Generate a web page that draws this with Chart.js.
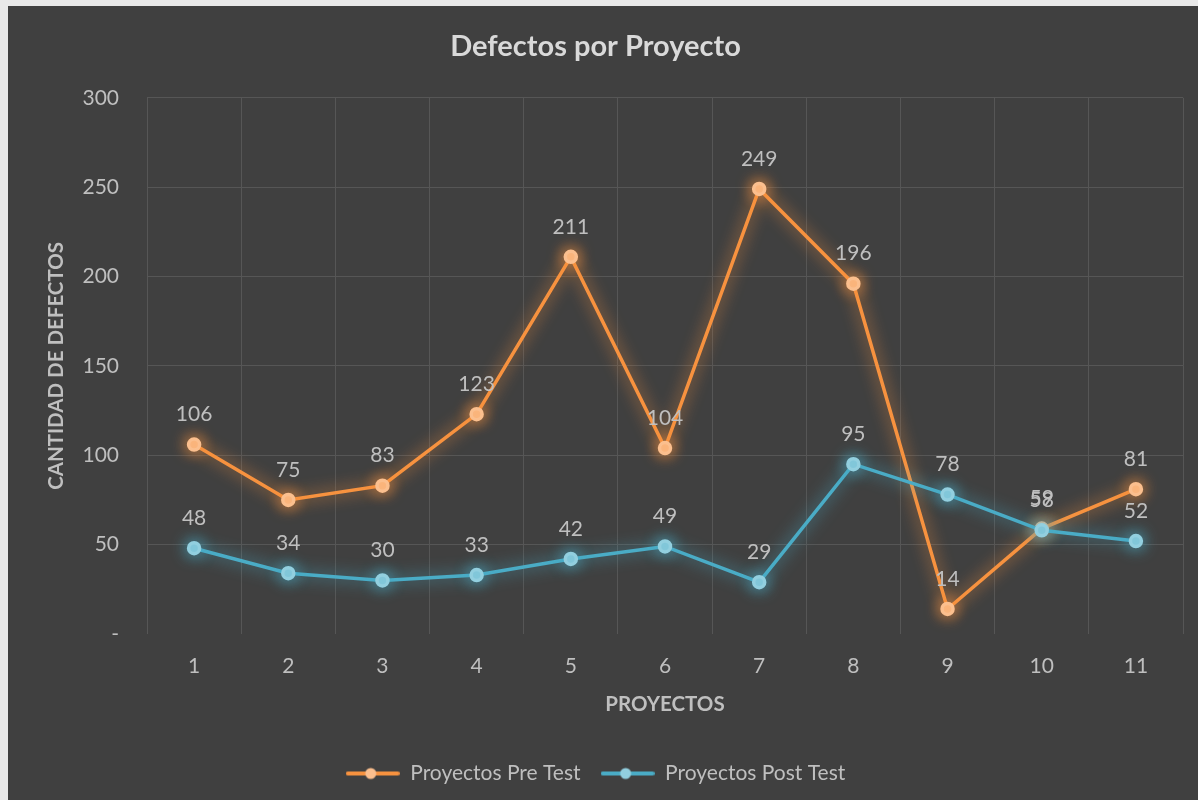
<!DOCTYPE html>
<html>
<head>
<meta charset="utf-8">
<script src="https://cdn.jsdelivr.net/npm/chart.js@4/dist/chart.umd.min.js"></script>
<style>
  html, body { margin: 0; padding: 0; background: #e9e9e9; }
  #wrap { position: absolute; left: 8px; top: 6px; width: 1190px; height: 794px; background: #404040; }
</style>
</head>
<body>
<div id="wrap"><canvas id="chart" width="1190" height="794"></canvas></div>
<script>
// chart data
const projects = ["1", "2", "3", "4", "5", "6", "7", "8", "9", "10", "11"];
const preTest = [106, 75, 83, 123, 211, 104, 249, 196, 14, 59, 81];
const postTest = [48, 34, 30, 33, 42, 49, 29, 95, 78, 58, 52];
const yTicks = [0, 50, 100, 150, 200, 250, 300];

const FONT = "Lato, 'Open Sans', sans-serif";
const TXT = "#bfbfbf";
const ORANGE = "#f7923f";
const ORANGE_PT = "#fbbf8e";
const BLUE = "#4aacc6";
const BLUE_PT = "#92cfdf";

// legend marker: short line with a dot in the middle
function legendIcon(line, dot) {
  const c = document.createElement("canvas");
  c.width = 54; c.height = 14;
  const g = c.getContext("2d");
  g.strokeStyle = line; g.lineWidth = 4; g.lineCap = "round";
  g.beginPath(); g.moveTo(2, 7); g.lineTo(52, 7); g.stroke();
  g.fillStyle = dot;
  g.beginPath(); g.arc(25, 7, 5.5, 0, Math.PI * 2); g.fill();
  return c;
}
const icons = [legendIcon(ORANGE, ORANGE_PT), legendIcon(BLUE, BLUE_PT)];

// soft glow behind each series
const glow = {
  id: "glow",
  beforeDatasetDraw(chart, args) {
    const ds = chart.data.datasets[args.index];
    chart.ctx.save();
    chart.ctx.shadowColor = ds.borderColor;
    chart.ctx.shadowBlur = 16;
  },
  afterDatasetDraw(chart) {
    chart.ctx.restore();
  }
};

// value labels above points
const valueLabels = {
  id: "valueLabels",
  afterDatasetsDraw(chart) {
    const ctx = chart.ctx;
    ctx.save();
    ctx.font = "21px " + FONT;
    ctx.fillStyle = TXT;
    ctx.textAlign = "center";
    ctx.textBaseline = "middle";
    chart.data.datasets.forEach((ds, i) => {
      chart.getDatasetMeta(i).data.forEach((pt, j) => {
        ctx.fillText(ds.data[j], pt.x, pt.y - 30);
      });
    });
    ctx.restore();
  }
};

new Chart(document.getElementById("chart"), {
  type: "line",
  data: {
    labels: projects,
    datasets: [
      {
        label: "Proyectos Pre Test",
        data: preTest,
        order: 1,
        borderColor: ORANGE,
        backgroundColor: ORANGE_PT,
        pointBackgroundColor: ORANGE_PT,
        pointBorderColor: ORANGE_PT,
        pointRadius: 5.5,
        borderWidth: 3.5,
        tension: 0
      },
      {
        label: "Proyectos Post Test",
        data: postTest,
        order: 0,
        borderColor: BLUE,
        backgroundColor: BLUE_PT,
        pointBackgroundColor: BLUE_PT,
        pointBorderColor: BLUE_PT,
        pointRadius: 5.5,
        borderWidth: 3.5,
        tension: 0
      }
    ]
  },
  options: {
    responsive: false,
    animation: false,
    layout: { padding: { left: 0, right: 15, top: 0, bottom: 6 } },
    plugins: {
      tooltip: { enabled: false },
      title: {
        display: true,
        text: "Defectos por Proyecto",
        color: "#d9d9d9",
        font: { family: FONT, size: 29, weight: "bold" },
        padding: { top: 23, bottom: 34 }
      },
      legend: {
        position: "bottom",
        title: {
          display: true,
          text: " ",
          font: { size: 10, lineHeight: 1 },
          padding: { top: 13, bottom: 0 }
        },
        labels: {
          usePointStyle: true,
          pointStyleWidth: 54,
          color: TXT,
          font: { family: FONT, size: 21 },
          padding: 20,
          generateLabels(chart) {
            return chart.data.datasets.map((ds, i) => ({
              text: ds.label,
              fontColor: TXT,
              pointStyle: icons[i],
              datasetIndex: i,
              lineWidth: 0,
              strokeStyle: "transparent",
              fillStyle: "transparent"
            }));
          }
        }
      }
    },
    scales: {
      x: {
        offset: true,
        afterFit(scale) { scale.height = 86; },
        grid: { offset: true, color: "#565656", lineWidth: 1, drawTicks: false },
        border: { display: false },
        ticks: { color: TXT, font: { family: FONT, size: 21 }, padding: 20 },
        title: {
          display: true,
          text: "PROYECTOS",
          color: TXT,
          font: { family: FONT, size: 20.5, weight: "bold" },
          padding: { top: 0, bottom: 3 }
        }
      },
      y: {
        min: 0,
        max: 300,
        afterFit(scale) { scale.width = 139; },
        afterBuildTicks(scale) {
          scale.ticks = yTicks.map(v => ({ value: v }));
        },
        grid: {
          color: ctx => (ctx.tick && ctx.tick.value === 0 ? "rgba(0,0,0,0)" : "#565656"),
          drawTicks: false
        },
        border: { display: false },
        ticks: {
          color: TXT,
          font: { family: FONT, size: 21 },
          padding: 28,
          callback: v => (v === 0 ? "-" : v)
        },
        title: {
          display: true,
          text: "CANTIDAD DE DEFECTOS",
          color: TXT,
          font: { family: FONT, size: 20.5, weight: "bold" },
          padding: { top: 36, bottom: 0 }
        }
      }
    }
  },
  plugins: [glow, valueLabels]
});
</script>
</body>
</html>
